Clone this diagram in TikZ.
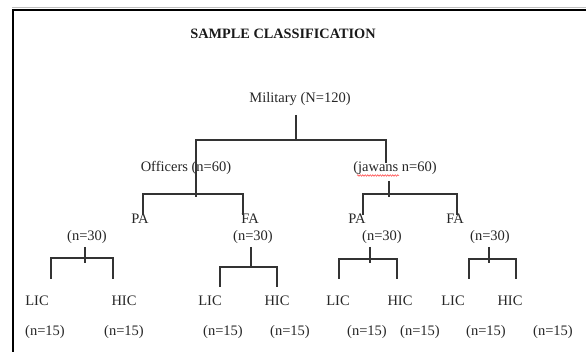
\documentclass[tikz,border=0pt]{standalone}
\usepackage{fontspec}
\setmainfont{Liberation Serif}
\usetikzlibrary{decorations.pathmorphing}
\tikzset{
  lbl/.style={inner sep=0pt, font=\fontsize{14.5}{17}\selectfont, text=black!85},
  ttl/.style={inner sep=0pt, font=\fontsize{14.3}{17}\selectfont\bfseries, text=black!90},
  tree/.style={line width=1.2pt, draw=black!80},
  frame/.style={line width=1.6pt, draw=black}
}
\begin{document}
\begin{tikzpicture}[x=1pt,y=-1pt]
\useasboundingbox (0,0) rectangle (586,352);
% frame
\draw[line width=1pt, draw=black!25] (12,8) -- (586,8);
\draw[frame] (13,352) -- (13,10) -- (586,10);
% title and root
\node[ttl] (title) at (283,34) {SAMPLE CLASSIFICATION};
\node[lbl] (mil) at (300,99) {Military (N=120)};
% level 1
\node[lbl] (off) at (186,168) {Officers (n=60)};
\node[lbl] (jaw) at (395,168) {(jawans n=60)};
% level 2
\node[lbl] (pa1) at (140,219) {PA};
\node[lbl] (fa1) at (250,219) {FA};
\node[lbl] (pa2) at (357,219) {PA};
\node[lbl] (fa2) at (455,219) {FA};
\node[lbl] (n1) at (87,237) {(n=30)};
\node[lbl] (n2) at (253,237) {(n=30)};
\node[lbl] (n3) at (382,237) {(n=30)};
\node[lbl] (n4) at (490,237) {(n=30)};
% leaves
\foreach \nm/\x/\t in {l1/37/LIC, h1/124/HIC, l2/210/LIC, h2/277/HIC, l3/338/LIC, h3/400/HIC, l4/453/LIC, h4/510/HIC}
  \node[lbl] (\nm) at (\x,301) {\t};
\foreach \nm/\x in {c1/45, c2/124, c3/223, c4/290, c5/367, c6/420, c7/486, c8/553}
  \node[lbl] (\nm) at (\x,332) {(n=15)};
% connector coordinates
\coordinate (m0) at (296,115);
\coordinate (m1) at (296,140);
\coordinate (mL) at (196,140);
\coordinate (mR) at (386,140);
\coordinate (jT) at (386,163);
\coordinate (oB) at (196,197);
\coordinate (oL) at (143,194);
\coordinate (oR) at (243,194);
\coordinate (oLd) at (143,215);
\coordinate (oRd) at (243,215);
\coordinate (j0) at (389,181);
\coordinate (j1) at (389,197);
\coordinate (jL) at (363,194);
\coordinate (jR) at (457,194);
\coordinate (jLd) at (363,215);
\coordinate (jRd) at (457,215);
% root tree
\draw[tree] (m0) -- (m1);
\draw[tree] (oB) -- (mL) -- (mR) -- (jT);
\draw[tree] (oLd) -- (oL) -- (oR) -- (oRd);
\draw[tree] (j0) -- (j1);
\draw[tree] (jLd) -- (jL) -- (jR) -- (jRd);
% (n=30) subtrees
\foreach \s/\sx/\by/\a/\b/\dy/\te in {A/85/258/51/113/279/263, B/251/267/220/277/287/267, C/370/259/339/397/279/263, D/489/259/469/516/279/263}{
  \coordinate (\s t) at (\sx,247);
  \coordinate (\s b) at (\sx,\te);
  \coordinate (\s l) at (\a,\by);
  \coordinate (\s r) at (\b,\by);
  \coordinate (\s ld) at (\a,\dy);
  \coordinate (\s rd) at (\b,\dy);
  \draw[tree] (\s t) -- (\s b);
  \draw[tree] (\s ld) -- (\s l) -- (\s r) -- (\s rd);
}
% spell-check underline
\draw[red!80, line width=0.5pt, decorate, decoration={snake, amplitude=0.8pt, segment length=2.5pt}] (357,175.5) -- (399,175.5);
\end{tikzpicture}
\end{document}
